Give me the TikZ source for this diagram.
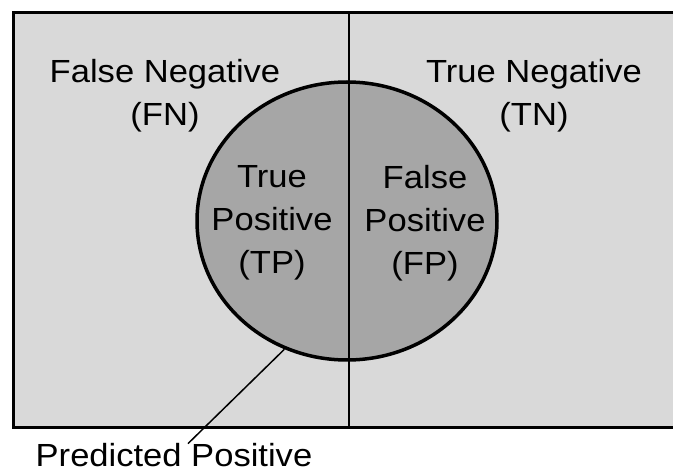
\documentclass[tikz,border=0pt]{standalone}
\usepackage{fontspec}
\setmainfont{Liberation Sans}[FakeStretch=1.08]
\usetikzlibrary{shapes.geometric}
\definecolor{outergray}{HTML}{D9D9D9}
\definecolor{innergray}{HTML}{A6A6A6}
\begin{document}
\begin{tikzpicture}[x=1pt,y=-1pt,
  lbl/.style={align=center,inner sep=0pt,font=\fontsize{32}{43}\selectfont}]
\useasboundingbox (0,0) rectangle (673,473);
\fill[outergray] (13,13) rectangle (673,428);
\draw[line width=3pt] (673,13) -- (13,13) -- (13,428) -- (673,428);

\node[ellipse,draw,line width=3.5pt,fill=innergray,minimum width=300pt,minimum height=278pt,inner sep=0pt] (pp) at (347,221) {};
\draw[line width=2pt] (349,13) -- (349,428);

\node[lbl] (fn) at (165,96) {False Negative\\(FN)};
\node[lbl] (tn) at (534,96) {True Negative\\(TN)};
\node[lbl] (tp) at (272,223) {True\\Positive\\(TP)};
\node[lbl] (fp) at (425,223) {False\\Positive\\(FP)};
\node[lbl,anchor=base] (pred) at (174,467) {Predicted Positive};

\draw[line width=1.5pt] (pp.244) -- ([xshift=14pt]pred.north);
\end{tikzpicture}
\end{document}
